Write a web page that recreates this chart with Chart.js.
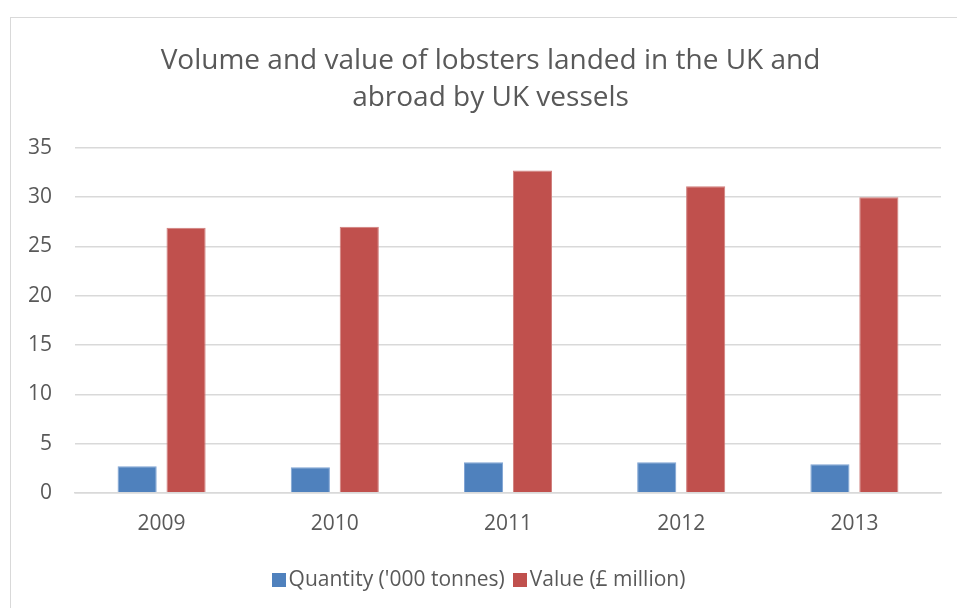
<!DOCTYPE html>
<html>
<head>
<meta charset="utf-8">
<script src="https://cdn.jsdelivr.net/npm/chart.js@4"></script>
<style>
  html, body { margin: 0; padding: 0; background: #ffffff; }
  body { width: 957px; height: 608px; position: relative; overflow: hidden; font-family: "Open Sans", sans-serif; }
  #frame { position: absolute; left: 10px; top: 17px; width: 1000px; height: 700px; border: 1.5px solid #d9d9d9; box-sizing: border-box; }
  #c { position: absolute; left: 0; top: 0; }
  #legend { position: absolute; left: 0; width: 957px; top: 564px; text-align: center; font-size: 21px; color: #595959; white-space: nowrap; }
  #legend span.item { display: inline-block; margin: 0 4px; }
  #legend span.box { display: inline-block; width: 14px; height: 14px; margin-right: 3px; vertical-align: -1px; }
</style>
</head>
<body>
<div id="frame"></div>
<canvas id="c" width="957" height="608"></canvas>
<div id="legend"></div>
<script>
const categories = ["2009", "2010", "2011", "2012", "2013"];
const quantity = [2.7, 2.6, 3.1, 3.1, 2.9];
const value = [26.9, 27.0, 32.7, 31.1, 30.0];
const seriesNames = ["Quantity ('000 tonnes)", "Value (£ million)"];
const seriesColors = ["#4F81BD", "#C0504D"];
const yTicks = [0, 5, 10, 15, 20, 25, 30, 35];

const textColor = "#595959";

const titleShift = {
  id: "titleShift",
  afterLayout(chart) {
    const t = chart.titleBlock;
    if (t) { t.left = 40; t.right = chart.chartArea.right; t.width = t.right - t.left; }
  }
};

const ctx = document.getElementById("c");
const chart = new Chart(ctx, {
  type: "bar",
  data: {
    labels: categories,
    datasets: [
      { label: seriesNames[0], data: quantity, backgroundColor: seriesColors[0], borderColor: "#7ea3d3", borderWidth: {top:1,left:1,right:1,bottom:0}, categoryPercentage: 0.565, barPercentage: 0.8 },
      { label: seriesNames[1], data: value, backgroundColor: seriesColors[1], borderColor: "#d07e7c", borderWidth: {top:1,left:1,right:1,bottom:0}, categoryPercentage: 0.565, barPercentage: 0.8 }
    ]
  },
  plugins: [titleShift],
  options: {
    responsive: false,
    animation: false,
    devicePixelRatio: 1,
    layout: { padding: { top: 43, right: 16, bottom: 52, left: 0 } },
    plugins: {
      legend: { display: false },
      tooltip: { enabled: false },
      title: {
        display: true,
        text: ["Volume and value of lobsters landed in the UK and", "abroad by UK vessels"],
        color: textColor,
        font: { family: "Open Sans", size: 28, weight: "normal", lineHeight: 1.32 },
        padding: { top: 0, bottom: 31 }
      }
    },
    scales: {
      x: {
        grid: { display: false, drawTicks: false },
        border: { display: true, color: "#d9d9d9", width: 1.5 },
        ticks: { color: textColor, font: { family: "Open Sans", size: 21 }, padding: 19 }
      },
      y: {
        min: 0, max: 35,
        afterBuildTicks: (s) => { s.ticks = yTicks.map(v => ({ value: v })); },
        afterFit: (s) => { s.width = 75; },
        grid: { color: "#d9d9d9", lineWidth: 1.5, drawTicks: false },
        border: { display: false },
        ticks: { color: textColor, font: { family: "Open Sans", size: 21 }, padding: 23 }
      }
    }
  }
});

const lg = document.getElementById("legend");
chart.data.datasets.forEach((ds) => {
  const it = document.createElement("span");
  it.className = "item";
  const b = document.createElement("span");
  b.className = "box";
  b.style.background = ds.backgroundColor;
  it.appendChild(b);
  it.appendChild(document.createTextNode(ds.label));
  lg.appendChild(it);
});
</script>
</body>
</html>
